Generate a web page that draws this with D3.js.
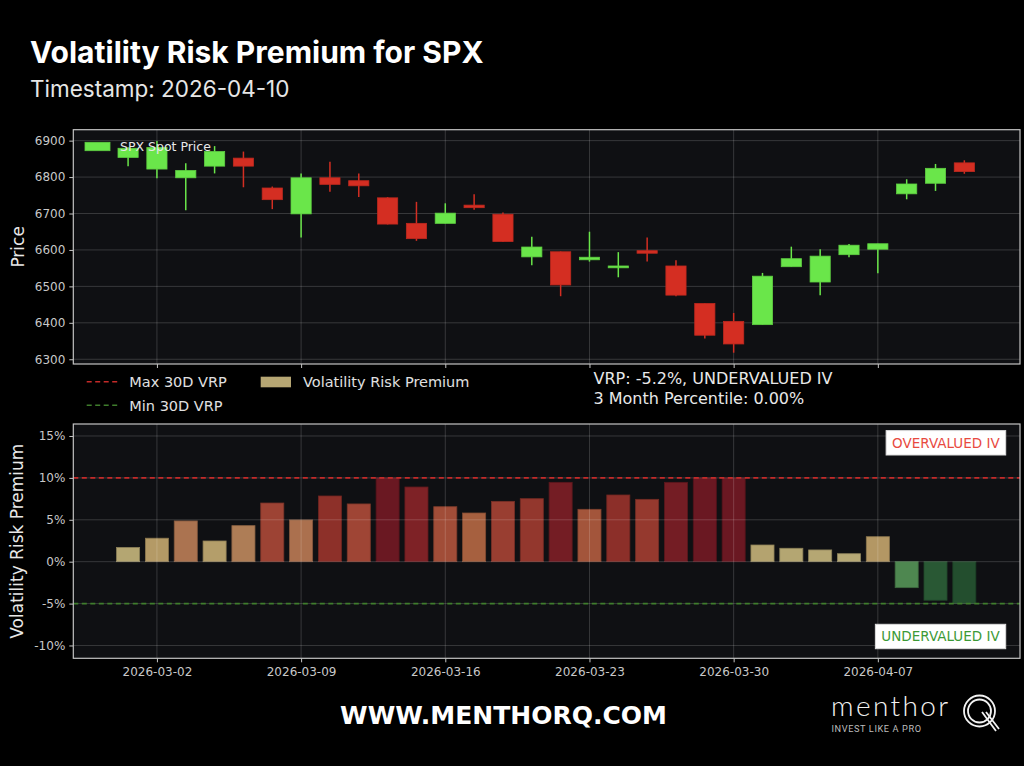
<!DOCTYPE html>
<html>
<head>
<meta charset="utf-8">
<script src="https://cdn.jsdelivr.net/npm/d3@7"></script>
<style>
  html, body { margin: 0; padding: 0; background: #000; }
  svg { display: block; }
  text { font-family: 'DejaVu Sans', sans-serif; }
</style>
</head>
<body>
<svg id="chart" width="1024" height="766"></svg>
<script>
// trading days shown on the chart
const dates = [
  '2026-02-27', '2026-03-02', '2026-03-03', '2026-03-04', '2026-03-05', '2026-03-06',
  '2026-03-09', '2026-03-10', '2026-03-11', '2026-03-12', '2026-03-13',
  '2026-03-16', '2026-03-17', '2026-03-18', '2026-03-19', '2026-03-20',
  '2026-03-23', '2026-03-24', '2026-03-25', '2026-03-26', '2026-03-27',
  '2026-03-30', '2026-03-31', '2026-04-01', '2026-04-02',
  '2026-04-06', '2026-04-07', '2026-04-08', '2026-04-09', '2026-04-10'
];

// SPX candles
const openPrices = [
  6854, 6822, 6798, 6830, 6852, 6770, 6699, 6798, 6790, 6743, 6673,
  6673, 6723, 6698, 6581, 6595, 6573, 6551, 6598, 6556, 6453,
  6404, 6395, 6554, 6512, 6587, 6602, 6754, 6783, 6839
];
const highPrices = [
  6882, 6899, 6838, 6885, 6870, 6774, 6810, 6842, 6810, 6745, 6732,
  6728, 6753, 6703, 6636, 6596, 6650, 6594, 6634, 6572, 6453,
  6427, 6537, 6609, 6602, 6616, 6617, 6794, 6836, 6846
];
const lowPrices = [
  6830, 6797, 6709, 6810, 6772, 6712, 6634, 6760, 6745, 6670, 6625,
  6673, 6710, 6622, 6558, 6473, 6568, 6525, 6568, 6473, 6357,
  6318, 6395, 6554, 6476, 6580, 6536, 6739, 6762, 6809
];
const closePrices = [
  6879, 6881, 6818, 6870, 6830, 6738, 6798, 6780, 6776, 6671, 6631,
  6701, 6716, 6623, 6608, 6504, 6580, 6556, 6591, 6476, 6366,
  6342, 6528, 6576, 6583, 6613, 6617, 6781, 6824, 6815
];

// volatility risk premium, percent
const vrpValues = [
  1.7, 2.8, 4.86, 2.47, 4.3, 7.0, 4.98, 7.84, 6.89, 10.0, 8.91,
  6.56, 5.81, 7.2, 7.52, 9.47, 6.25, 7.96, 7.44, 9.47, 10.0,
  10.0, 1.99, 1.6, 1.4, 0.95, 2.98, -3.1, -4.6, -5.0
];
const maxVrp = 10.0;
const minVrp = -5.0;

const priceTicks = [6300, 6400, 6500, 6600, 6700, 6800, 6900];
const vrpTicks = [-10, -5, 0, 5, 10, 15];
const dateTicks = ['2026-03-02', '2026-03-09', '2026-03-16', '2026-03-23', '2026-03-30', '2026-04-07'];

const vrpNow = -5.2;
const percentile3m = 0.0;

const colors = {
  up: '#6ae64a',
  down: '#d42e22',
  axesBg: '#0f1013',
  spine: '#c4c4c4',
  tick: '#c8c8c8',
  maxLine: '#c42a28',
  minLine: '#3f7d2c',
  premium: '#b6a673'
};

const posColor = d3.scaleLinear()
  .domain([0, 1.7, 2.8, 4.9, 5.8, 6.9, 7.8, 8.9, 10])
  .range(['#b8ad7a', '#b4a672', '#b49a66', '#ab7250', '#a6603f', '#9f4535', '#8e3129', '#7e2226', '#6a1822'])
  .clamp(true);
const negColor = d3.scaleLinear()
  .domain([-5, -4.6, -3, 0])
  .range(['#234e2e', '#295834', '#508a52', '#a9c890'])
  .clamp(true);

const svg = d3.select('#chart');
svg.append('rect').attr('width', 1024).attr('height', 766).attr('fill', '#000');

const plotLeft = 73.3;
const plotRight = 1020;
const topPanel = { top: 129.7, bottom: 364 };
const botPanel = { top: 424, bottom: 658.3 };

const x = d3.scaleLinear().domain([-1.9, 30.93]).range([plotLeft, plotRight]);
const yPrice = d3.scaleLinear().domain([6287, 6930]).range([topPanel.bottom, topPanel.top]);
const yVrp = d3.scaleLinear().domain([-11.53, 16.43]).range([botPanel.bottom, botPanel.top]);

const dateIndex = (d) => dates.indexOf(d);

// titles
svg.append('text')
  .attr('x', 30).attr('y', 63)
  .attr('fill', '#fff')
  .style('font-family', 'Inter, sans-serif')
  .style('font-weight', 700)
  .style('font-size', '30px')
  .text('Volatility Risk Premium for SPX');

svg.append('text')
  .attr('x', 30).attr('y', 97.3)
  .attr('fill', '#e6e6e6')
  .style('font-family', 'Inter, sans-serif')
  .style('font-size', '22.5px')
  .text('Timestamp: 2026-04-10');

function panel(top, bottom, yScale, ticks, fmt, gridOnTop) {
  const g = svg.append('g');
  g.append('rect')
    .attr('x', plotLeft).attr('y', top)
    .attr('width', plotRight - plotLeft).attr('height', bottom - top)
    .attr('fill', colors.axesBg);

  const grid = g.append('g').attr('class', 'grid');
  const drawGrid = (target) => {
    target.selectAll('.hgrid')
      .data(ticks)
      .join('line')
      .attr('x1', plotLeft).attr('x2', plotRight)
      .attr('y1', (t) => yScale(t)).attr('y2', (t) => yScale(t))
      .attr('stroke', '#fff').attr('stroke-opacity', 0.17).attr('stroke-width', 1);
    target.selectAll('.vgrid')
      .data(dateTicks)
      .join('line')
      .attr('class', 'vgrid')
      .attr('x1', (d) => x(dateIndex(d))).attr('x2', (d) => x(dateIndex(d)))
      .attr('y1', top).attr('y2', bottom)
      .attr('stroke', '#fff').attr('stroke-opacity', 0.17).attr('stroke-width', 1);
  };
  if (!gridOnTop) drawGrid(grid);

  const marks = g.append('g');
  const overlay = g.append('g');
  if (gridOnTop) drawGrid(overlay);

  const yAxis = d3.axisLeft(yScale).tickValues(ticks).tickFormat(fmt).tickSize(4).tickPadding(4);
  const ya = g.append('g').attr('transform', `translate(${plotLeft},0)`).call(yAxis);
  ya.select('.domain').remove();
  ya.selectAll('line').attr('stroke', colors.spine);
  ya.selectAll('text').attr('fill', colors.tick).style('font-size', '12px');

  const xAxis = d3.axisBottom(x)
    .tickValues(dateTicks.map(dateIndex))
    .tickFormat((i) => dates[i])
    .tickSize(4).tickPadding(5);
  const xa = g.append('g').attr('transform', `translate(0,${bottom})`).call(xAxis);
  xa.select('.domain').remove();
  xa.selectAll('line').attr('stroke', colors.spine);
  xa.selectAll('text').attr('fill', colors.tick).style('font-size', '12px');

  g.append('rect')
    .attr('x', plotLeft).attr('y', top)
    .attr('width', plotRight - plotLeft).attr('height', bottom - top)
    .attr('fill', 'none').attr('stroke', colors.spine).attr('stroke-width', 1.2);

  return { marks, overlay, xa };
}

// price panel
const pricePanel = panel(topPanel.top, topPanel.bottom, yPrice, priceTicks, d3.format('d'), false);
pricePanel.xa.selectAll('text').remove();

const candles = dates.map((d, i) => ({
  i, open: openPrices[i], high: highPrices[i], low: lowPrices[i], close: closePrices[i]
}));
const bodyW = x(0.7) - x(0);
const candleColor = (c) => (c.close >= c.open ? colors.up : colors.down);

const candle = pricePanel.marks.selectAll('g.candle')
  .data(candles)
  .join('g')
  .attr('class', 'candle');
candle.append('line')
  .attr('x1', (c) => x(c.i)).attr('x2', (c) => x(c.i))
  .attr('y1', (c) => yPrice(c.high)).attr('y2', (c) => yPrice(c.low))
  .attr('stroke', candleColor)
  .attr('stroke-width', 1.5);
candle.append('rect')
  .attr('x', (c) => x(c.i) - bodyW / 2)
  .attr('width', bodyW)
  .attr('y', (c) => yPrice(Math.max(c.open, c.close)))
  .attr('height', (c) => Math.max(1.5, Math.abs(yPrice(c.open) - yPrice(c.close))))
  .attr('fill', candleColor)
  .attr('stroke', (c) => d3.color(candleColor(c)).darker(0.3))
  .attr('stroke-width', 0.8);

// price legend
const pl = pricePanel.overlay.append('g').attr('transform', 'translate(85,142.3)');
pl.append('rect').attr('width', 25).attr('height', 8.4).attr('fill', colors.up)
  .attr('stroke', d3.color(colors.up).darker(0.3)).attr('stroke-width', 0.8);
pl.append('text').attr('x', 35).attr('y', 8.8).attr('fill', '#e8e8e8')
  .style('font-size', '12.5px').text('SPX Spot Price');

svg.append('text')
  .attr('transform', `translate(24,${(topPanel.top + topPanel.bottom) / 2}) rotate(-90)`)
  .attr('text-anchor', 'middle')
  .attr('fill', '#e8e8e8')
  .style('font-size', '17px')
  .text('Price');

// VRP panel
const vrpPanel = panel(botPanel.top, botPanel.bottom, yVrp, vrpTicks, (t) => `${t}%`, true);
const barW = x(0.8) - x(0);
const barColor = (v) => (v >= 0 ? posColor(v) : negColor(v));

vrpPanel.marks.selectAll('rect')
  .data(vrpValues)
  .join('rect')
  .attr('x', (v, i) => x(i) - barW / 2)
  .attr('width', barW)
  .attr('y', (v) => yVrp(Math.max(0, v)))
  .attr('height', (v) => Math.abs(yVrp(v) - yVrp(0)))
  .attr('fill', barColor)
  .attr('stroke', (v) => d3.color(barColor(v)).darker(0.7))
  .attr('stroke-width', 0.8);

const refLines = [
  { value: maxVrp, color: colors.maxLine },
  { value: minVrp, color: colors.minLine }
];
vrpPanel.overlay.selectAll('line.ref')
  .data(refLines)
  .join('line')
  .attr('class', 'ref')
  .attr('x1', plotLeft).attr('x2', plotRight)
  .attr('y1', (r) => yVrp(r.value)).attr('y2', (r) => yVrp(r.value))
  .attr('stroke', (r) => r.color)
  .attr('stroke-width', 1.6)
  .attr('stroke-dasharray', '5,3.5');

// region boxes
function tag(label, color, right, cy) {
  const t = vrpPanel.overlay.append('text')
    .attr('y', cy + 4.8)
    .attr('fill', color)
    .style('font-size', '13.5px')
    .text(label);
  const w = t.node().getComputedTextLength();
  t.attr('x', right - 6 - w);
  vrpPanel.overlay.insert('rect', 'text')
    .attr('x', right - w - 12).attr('y', cy - 12.2)
    .attr('width', w + 12).attr('height', 24.4)
    .attr('fill', '#fff').attr('stroke', '#ddd');
}
tag('OVERVALUED IV', '#e84a3f', 1005.7, 442.8);
tag('UNDERVALUED IV', '#3c9a36', 1005.7, 636.5);

svg.append('text')
  .attr('transform', `translate(23,${(botPanel.top + botPanel.bottom) / 2}) rotate(-90)`)
  .attr('text-anchor', 'middle')
  .attr('fill', '#e8e8e8')
  .style('font-size', '17px')
  .text('Volatility Risk Premium');

// legend between panels
const lg = svg.append('g');
lg.append('line').attr('x1', 86.7).attr('x2', 117.3).attr('y1', 381.7).attr('y2', 381.7)
  .attr('stroke', colors.maxLine).attr('stroke-width', 1.6).attr('stroke-dasharray', '5,3.5');
lg.append('text').attr('x', 129.3).attr('y', 387).attr('fill', '#e0e0e0')
  .style('font-size', '14.5px').text('Max 30D VRP');
lg.append('line').attr('x1', 86.7).attr('x2', 117.3).attr('y1', 405.3).attr('y2', 405.3)
  .attr('stroke', colors.minLine).attr('stroke-width', 1.6).attr('stroke-dasharray', '5,3.5');
lg.append('text').attr('x', 129.3).attr('y', 410.6).attr('fill', '#e0e0e0')
  .style('font-size', '14.5px').text('Min 30D VRP');
lg.append('rect').attr('x', 260.7).attr('y', 376.7).attr('width', 30.3).attr('height', 10.6)
  .attr('fill', colors.premium);
lg.append('text').attr('x', 303).attr('y', 387).attr('fill', '#e0e0e0')
  .style('font-size', '14.5px').text('Volatility Risk Premium');

// current reading
svg.append('text').attr('x', 593.5).attr('y', 384).attr('fill', '#e8e8e8')
  .style('font-size', '16px').text(`VRP: ${vrpNow.toFixed(1)}%, UNDERVALUED IV`);
svg.append('text').attr('x', 593.5).attr('y', 403.5).attr('fill', '#e8e8e8')
  .style('font-size', '16px').text(`3 Month Percentile: ${percentile3m.toFixed(2)}%`);

// footer
svg.append('text')
  .attr('x', 503.5).attr('y', 723.5)
  .attr('text-anchor', 'middle')
  .attr('fill', '#fff')
  .style('font-weight', 700)
  .style('font-size', '25px')
  .text('WWW.MENTHORQ.COM');

const logo = svg.append('g');
logo.append('text').attr('x', 831).attr('y', 715.5).attr('fill', '#f2f2f2')
  .style('font-family', 'Lato, sans-serif').style('font-weight', 300).style('font-size', '28px')
  .style('letter-spacing', '2.4px')
  .text('menthor');
logo.append('text').attr('x', 831.5).attr('y', 732).attr('fill', '#bdbdbd')
  .style('font-family', 'Roboto, sans-serif').style('font-size', '9.2px')
  .style('letter-spacing', '0.6px')
  .text('INVEST LIKE A PRO');
logo.append('circle').attr('cx', 979.5).attr('cy', 711).attr('r', 15.5)
  .attr('fill', 'none').attr('stroke', '#f2f2f2').attr('stroke-width', 1.8);
logo.append('circle').attr('cx', 979.5).attr('cy', 711).attr('r', 11.5)
  .attr('fill', 'none').attr('stroke', '#f2f2f2').attr('stroke-width', 1.8);
logo.append('path').attr('d', 'M982,712 L996,731 M986,712 L999,729')
  .attr('stroke', '#f2f2f2').attr('stroke-width', 1.8).attr('fill', 'none');
</script>
</body>
</html>
